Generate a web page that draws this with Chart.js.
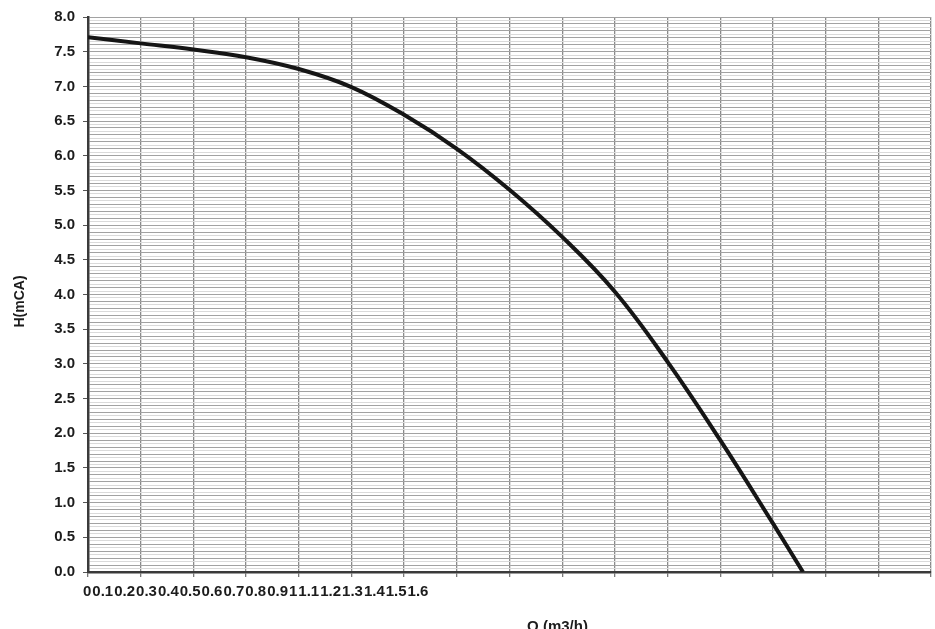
<!DOCTYPE html>
<html><head><meta charset="utf-8">
<script src="https://cdn.jsdelivr.net/npm/chart.js@4/dist/chart.umd.min.js"></script>
<style>html,body{margin:0;padding:0;background:#fff;}#wrap{width:935px;height:629px;position:relative;overflow:hidden;}</style>
</head><body><div id="wrap"><canvas id="c" width="935" height="629"></canvas></div>
<script>
const flowQ = [0, 0.1, 0.2, 0.3, 0.4, 0.5, 0.6, 0.7, 0.8, 0.9, 1.0, 1.1, 1.2, 1.3, 1.357];
const headH = [7.71, 7.62, 7.53, 7.42, 7.25, 6.99, 6.59, 6.10, 5.51, 4.83, 4.04, 3.03, 1.90, 0.70, 0];
const xTickLabels = ['0','0.1','0.2','0.3','0.4','0.5','0.6','0.7','0.8','0.9','1','1.1','1.2','1.3','1.4','1.5','1.6'];
const yTickLabels = ['0.0','0.5','1.0','1.5','2.0','2.5','3.0','3.5','4.0','4.5','5.0','5.5','6.0','6.5','7.0','7.5','8.0'];
const xTitle = 'Q (m3/h)';
const yTitle = 'H(mCA)';

const FONT = "'Liberation Sans', Arial, sans-serif";
const TXT = '#1c1c1c';

function isMult(v, step) { const r = v / step; return Math.abs(r - Math.round(r)) < 1e-6; }

const textPlugin = {
  id: 'textPlugin',
  afterDraw(chart) {
    const ctx = chart.ctx, a = chart.chartArea;
    ctx.save();
    ctx.fillStyle = TXT;
    ctx.font = 'bold 15px ' + FONT;
    ctx.textBaseline = 'alphabetic';
    ctx.textAlign = 'left';
    let x = a.left - 5;
    const y = a.bottom + 24;
    xTickLabels.forEach((t) => { ctx.fillText(t, x, y); x += ctx.measureText(t).width + 1; });
    ctx.textAlign = 'center';
    ctx.fillText(xTitle, (a.left + a.right) / 2 + 48, a.bottom + 59);
    ctx.font = 'bold 14px ' + FONT;
    ctx.translate(20, (a.top + a.bottom) / 2 + 7);
    ctx.rotate(-Math.PI / 2);
    ctx.textBaseline = 'middle';
    ctx.fillText(yTitle, 0, 0);
    ctx.restore();
  }
};

new Chart(document.getElementById('c'), {
  type: 'line',
  data: {
    datasets: [{
      data: flowQ.map((q, i) => ({ x: q, y: headH[i] })),
      borderColor: '#151515',
      borderWidth: 4,
      pointRadius: 0,
      fill: false,
      tension: 0.4
    }]
  },
  options: {
    responsive: false,
    animation: false,
    layout: { padding: { top: 16, right: 4, bottom: 0, left: 0 } },
    plugins: { legend: { display: false }, tooltip: { enabled: false } },
    scales: {
      x: {
        type: 'linear', min: 0, max: 1.6,
        ticks: { display: false, stepSize: 0.1, autoSkip: false },
        grid: { color: '#8a8a8a', lineWidth: 1.3, drawTicks: true, tickLength: 5, tickColor: '#777' },
        border: { display: true, color: '#3a3a3a', width: 2.5 },
        afterFit: (s) => { s.height = 57; }
      },
      y: {
        type: 'linear', min: 0, max: 8,
        ticks: {
          stepSize: 0.05, autoSkip: false, padding: 8, color: TXT,
          font: { family: FONT, size: 15, weight: 'bold' },
          callback: (v) => isMult(v, 0.5) ? yTickLabels[Math.round(v / 0.5)] : ''
        },
        grid: {
          drawTicks: true, tickLength: 5,
          color: (c) => isMult(c.tick.value, 0.1) ? '#a2a2a2' : '#dadada',
          lineWidth: 1,
          tickColor: (c) => isMult(c.tick.value, 0.5) ? '#555' : 'rgba(0,0,0,0)'
        },
        border: { display: true, color: '#3a3a3a', width: 2.5 },
        afterFit: (s) => { s.width = 88; }
      }
    }
  },
  plugins: [textPlugin]
});
</script></body></html>
